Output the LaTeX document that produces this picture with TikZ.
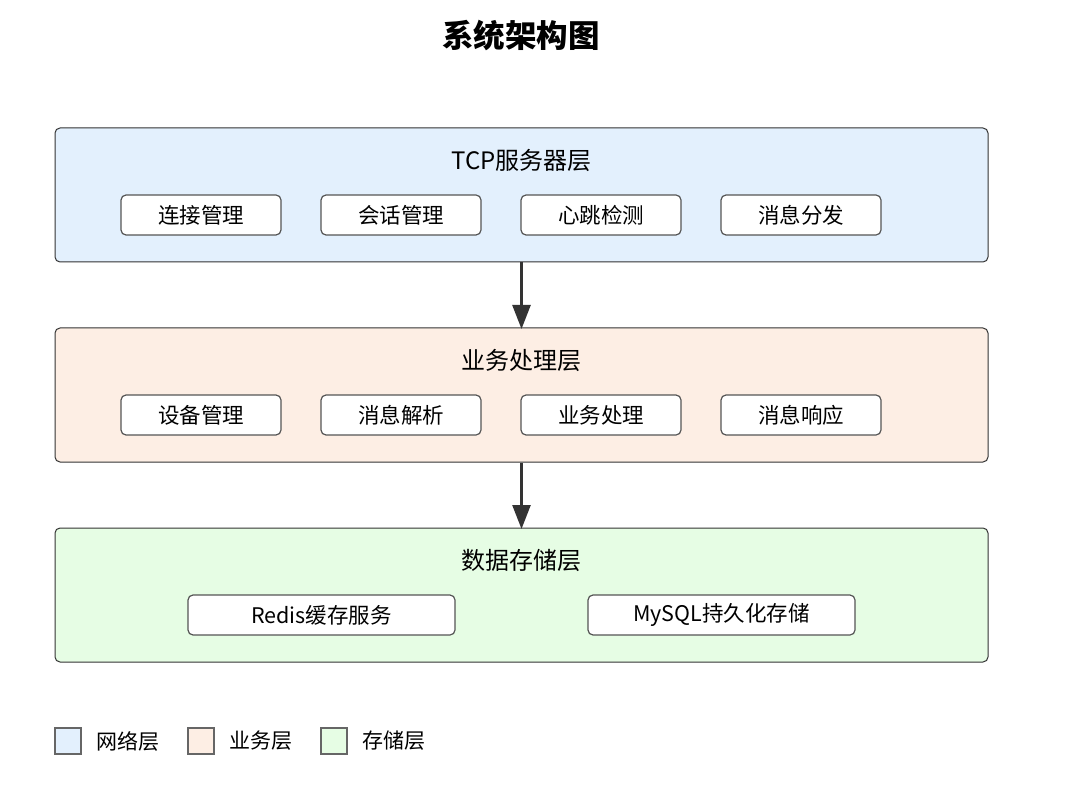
\documentclass[tikz,border=0pt]{standalone}
\usepackage{fontspec}
\setmainfont{Noto Sans CJK SC}
\usetikzlibrary{arrows.meta}
\definecolor{netfill}{HTML}{E3F0FD}
\definecolor{bizfill}{HTML}{FDEEE4}
\definecolor{storfill}{HTML}{E6FDE4}
\definecolor{edge}{HTML}{333333}
\definecolor{boxedge}{HTML}{555555}
\tikzset{
  layer/.style={draw=edge, line width=1pt, rounded corners=5pt, minimum width=933pt, minimum height=134pt, inner sep=0pt},
  layertitle/.style={font=\fontsize{24}{28}\selectfont, text=black, inner sep=0pt},
  item/.style={draw=boxedge, line width=1.2pt, fill=white, rounded corners=5pt, minimum height=40pt, inner sep=0pt, font=\fontsize{21.5}{25}\selectfont},
  legbox/.style={draw=boxedge!90, line width=1.3pt, minimum width=26pt, minimum height=26pt, inner sep=0pt},
  legtext/.style={font=\fontsize{21}{25}\selectfont, anchor=west, inner sep=0pt},
  flow/.style={draw=edge, line width=2.5pt, -{Triangle[length=24pt,width=18pt]}, fill=edge, shorten >=-1.5pt}
}
\begin{document}
\begin{tikzpicture}[x=1pt,y=-1pt]
\useasboundingbox (0,0) rectangle (1071,810);
\node[font=\fontsize{31.5}{36}\selectfont\bfseries] (title) at (521,36) {系统架构图};

\node[layer, fill=netfill] (L1) at (521.5,195) {};
\node[layertitle] (L1t) at (521.5,160) {TCP服务器层};
\node[item, minimum width=160pt] (a1) at (201,215) {连接管理};
\node[item, minimum width=160pt] (a2) at (401,215) {会话管理};
\node[item, minimum width=160pt] (a3) at (601,215) {心跳检测};
\node[item, minimum width=160pt] (a4) at (801,215) {消息分发};

\node[layer, fill=bizfill] (L2) at (521.5,395) {};
\node[layertitle] (L2t) at (521.5,360) {业务处理层};
\node[item, minimum width=160pt] (b1) at (201,415) {设备管理};
\node[item, minimum width=160pt] (b2) at (401,415) {消息解析};
\node[item, minimum width=160pt] (b3) at (601,415) {业务处理};
\node[item, minimum width=160pt] (b4) at (801,415) {消息响应};

\node[layer, fill=storfill] (L3) at (521.5,595) {};
\node[layertitle] (L3t) at (521.5,560) {数据存储层};
\node[item, minimum width=267pt] (c1) at (321.5,615) {Redis缓存服务};
\node[item, minimum width=267pt] (c2) at (721.5,615) {MySQL持久化存储};

\draw[flow] (L1.south) -- (L2.north);
\draw[flow] (L2.south) -- (L3.north);

\node[legbox, fill=netfill] (g1) at (68,741) {};
\node[legtext] (g1t) at (96,741) {网络层};
\node[legbox, fill=bizfill] (g2) at (201,741) {};
\node[legtext] (g2t) at (229,741) {业务层};
\node[legbox, fill=storfill] (g3) at (334,741) {};
\node[legtext] (g3t) at (362,741) {存储层};
\end{tikzpicture}
\end{document}
